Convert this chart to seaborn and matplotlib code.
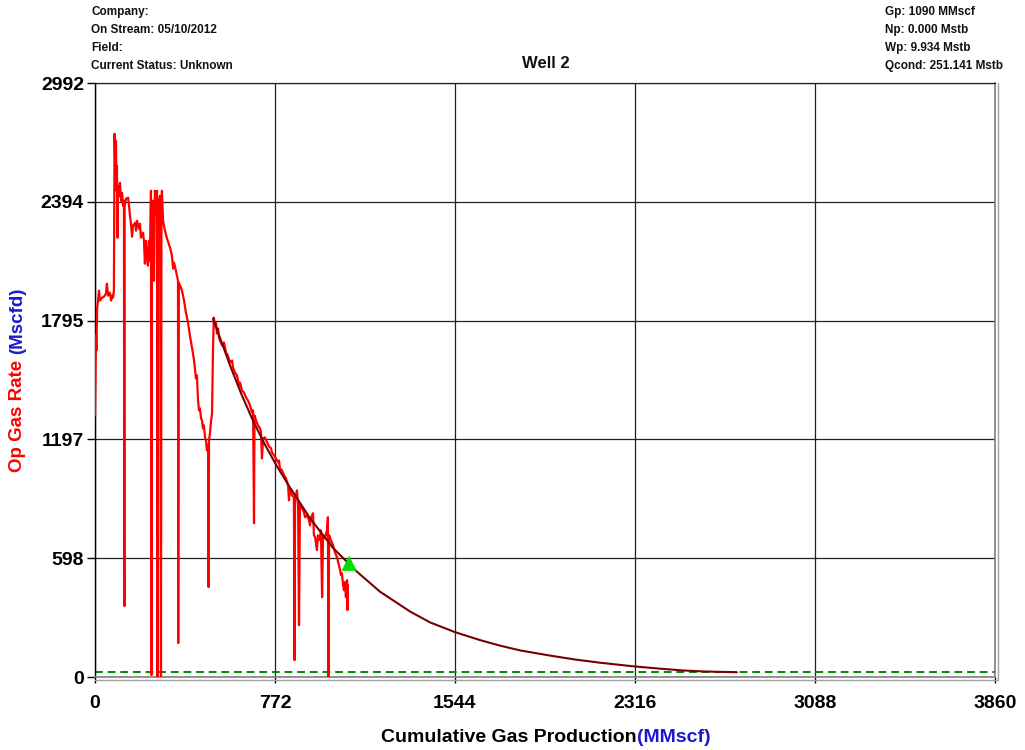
import matplotlib
matplotlib.use("Agg")
import matplotlib.pyplot as plt
from matplotlib.lines import Line2D
import pandas as pd
import seaborn as sns

# Daily gas rate history against cumulative production (MMscf, Mscfd)
cum_gas = [0, 2, 4, 6, 9, 13, 17, 21, 30, 39, 47, 51, 56, 64, 69, 73, 77, 81, 84, 86,
           90, 92, 94, 97, 99, 103, 107, 112, 116, 120, 124, 126, 127, 133, 142, 146, 150, 154, 159, 163,
           172, 176, 180, 189, 193, 197, 206, 210, 214, 219, 223, 227, 232, 236, 240, 242, 244, 249, 253, 257,
           262, 266, 268, 270, 274, 279, 283, 285, 287, 292, 300, 309, 322, 330, 335, 339, 347, 356, 357, 359,
           365, 373, 382, 390, 399, 407, 416, 425, 433, 437, 442, 446, 450, 455, 459, 463, 467, 472, 476, 480,
           485, 487, 489, 493, 498, 502, 504, 506, 508, 510, 515, 519, 523, 528, 532, 536, 545, 553, 562, 570,
           579, 588, 592, 600, 609, 618, 622, 630, 639, 648, 656, 665, 673, 678, 682, 684, 691, 699, 708, 712,
           716, 721, 729, 738, 746, 755, 759, 768, 776, 785, 789, 793, 802, 811, 819, 828, 832, 836, 841, 845,
           853, 856, 858, 866, 871, 875, 879, 888, 896, 901, 909, 918, 922, 926, 935, 939, 944, 952, 956, 965,
           969, 974, 978, 986, 995, 999, 1001, 1004, 1012, 1021, 1029, 1038, 1046, 1051, 1055, 1059, 1064, 1068, 1072,
           1076, 1081, 1083, 1085]
gas_rate = [1317, 1494, 1720, 1644, 1856, 1896, 1946, 1896, 1911, 1916, 1931, 1981, 1921, 1936, 1896, 1921, 1911, 1946, 2736, 2600,
            2700, 2449, 2575, 2213, 2474, 2424, 2489, 2399, 2439, 2374, 2399, 357, 2374, 2409, 2414, 2374, 2323, 2288, 2218, 2273,
            2288, 2248, 2298, 2258, 2283, 2213, 2238, 2197, 2082, 2197, 2122, 2072, 2197, 2097, 2449, 10, 2197, 2399, 1996, 2449,
            2333, 2449, 0, 2248, 2399, 2424, 0, 2248, 2449, 2298, 2248, 2208, 2162, 2122, 2057, 2087, 2047, 1996, 171, 1986,
            1971, 1946, 1896, 1835, 1785, 1720, 1659, 1594, 1504, 1519, 1393, 1343, 1353, 1302, 1292, 1252, 1267, 1207, 1192, 1142,
            1167, 453, 1192, 1227, 1292, 1328, 1494, 1644, 1745, 1810, 1770, 1785, 1730, 1755, 1710, 1695, 1670, 1685, 1634, 1619,
            1584, 1594, 1559, 1534, 1519, 1468, 1483, 1443, 1433, 1408, 1393, 1368, 1333, 1343, 774, 1317, 1292, 1267, 1252, 1232,
            1101, 1202, 1207, 1182, 1162, 1152, 1131, 1116, 1101, 1081, 1091, 1051, 1041, 1016, 1001, 965, 890, 950, 930, 915,
            905, 85, 890, 940, 865, 261, 875, 850, 830, 805, 815, 790, 764, 800, 825, 714, 704, 639, 714, 689,
            739, 402, 714, 699, 739, 805, 0, 714, 689, 664, 629, 603, 563, 538, 513, 523, 463, 437, 478,
            402, 488, 337, 463]

# Decline forecast from the start of the second flow period to the economic limit
fit_cum = [506, 545, 579, 626, 678, 729, 781, 836, 922, 1021, 1124, 1222, 1351, 1437, 1544, 1651,
           1737, 1823, 1951, 2059, 2166, 2307, 2423, 2522, 2608, 2753]
fit_rate = [1805, 1680, 1570, 1430, 1290, 1170, 1060, 955, 800, 650, 530, 430, 330, 275, 226, 186,
            158, 134, 108, 88, 72, 54, 42, 33, 28, 24]

economic_limit = 25
current_cum = [1090]
current_rate = [573]

x_ticks = [0, 772, 1544, 2316, 3088, 3860]
y_ticks = [0, 598, 1197, 1795, 2394, 2992]

well_name = "Well 2"
header_left = ["Company:", "On Stream: 05/10/2012", "Field:", "Current Status: Unknown"]
header_right = ["Gp: 1090 MMscf", "Np: 0.000 Mstb", "Wp: 9.934 Mstb", "Qcond: 251.141 Mstb"]

sns.set_theme(style="white")
plt.rcParams["font.family"] = ["Liberation Sans", "DejaVu Sans"]

W, H = 1025, 750
fig = plt.figure(figsize=(W / 100, H / 100), dpi=100)
fig.patch.set_facecolor("white")
ax = fig.add_axes([95 / W, 1 - 677 / H, 900 / W, 594 / H])
ax.set_facecolor("white")

hist = pd.DataFrame({"cum": cum_gas, "rate": gas_rate})
fit = pd.DataFrame({"cum": fit_cum, "rate": fit_rate})

sns.lineplot(data=hist, x="cum", y="rate", sort=False, estimator=None,
             color="#FF0000", linewidth=1.6, ax=ax, zorder=3)
sns.lineplot(data=fit, x="cum", y="rate", sort=False, estimator=None,
             color="#7A0000", linewidth=1.5, ax=ax, zorder=4)
ax.axhline(economic_limit, color="#008A00", linewidth=1.4, linestyle=(0, (4, 2.5)), zorder=2)
sns.scatterplot(x=current_cum, y=current_rate, marker="^", s=120, color="#00DD00",
                edgecolor="none", ax=ax, zorder=5)

ax.set_xlim(x_ticks[0], x_ticks[-1])
ax.set_ylim(y_ticks[0], y_ticks[-1])
ax.set_xticks(x_ticks)
ax.set_yticks(y_ticks)
ax.set_xticklabels([str(v) for v in x_ticks])
ax.set_yticklabels([str(v) for v in y_ticks])
ax.grid(True, color="#202020", linewidth=0.9)
ax.set_axisbelow(True)
ax.set_xlabel("")
ax.set_ylabel("")

ax.tick_params(axis="y", which="both", direction="out", length=6, width=1, pad=2,
               labelsize=14, colors="black", left=True)
ax.tick_params(axis="x", which="both", direction="out", length=4, width=1, pad=9,
               labelsize=14, colors="black", bottom=True)
for lbl in ax.get_xticklabels() + ax.get_yticklabels():
    lbl.set_fontweight("bold")

ax.spines["left"].set_color("black")
ax.spines["left"].set_linewidth(1.0)
ax.spines["top"].set_color("#202020")
ax.spines["top"].set_linewidth(0.9)
for side in ("right", "bottom"):
    ax.spines[side].set_color("#808080")
    ax.spines[side].set_linewidth(1.2)

# second rule of the double frame on the right and bottom
x_r = 998 / W
y_b = 1 - 680 / H
fig.add_artist(Line2D([95 / W, x_r], [y_b, y_b], color="#A0A0A0", linewidth=1.0))
fig.add_artist(Line2D([x_r, x_r], [y_b, 1 - 83 / H], color="#A0A0A0", linewidth=1.0))

# header block
for i, txt in enumerate(header_left):
    fig.text(91 / W, 1 - (12 + 18 * i) / H, txt, fontsize=8.5, fontweight="bold",
             ha="left", va="center", color="#111111")
for i, txt in enumerate(header_right):
    fig.text(885 / W, 1 - (12 + 18 * i) / H, txt, fontsize=8.5, fontweight="bold",
             ha="left", va="center", color="#111111")
fig.text(546 / W, 1 - 64 / H, well_name, fontsize=12, fontweight="bold",
         ha="center", va="center", color="#111111")

# two-colour axis titles
fig.canvas.draw()
renderer = fig.canvas.get_renderer()
blue = "#1A1ACC"

xt1 = fig.text(0, 1 - 737 / H, "Cumulative Gas Production", fontsize=14, fontweight="bold",
               color="black", ha="left", va="center")
xt2 = fig.text(0, 1 - 737 / H, "(MMscf)", fontsize=14, fontweight="bold",
               color=blue, ha="left", va="center")
w1 = xt1.get_window_extent(renderer).width
w2 = xt2.get_window_extent(renderer).width
x0 = 546 - (w1 + w2) / 2
xt1.set_x(x0 / W)
xt2.set_x((x0 + w1) / W)

yt1 = fig.text(18 / W, 0, "Op Gas Rate ", fontsize=13.5, fontweight="bold",
               color="#FF0000", rotation=90, ha="center", va="bottom")
yt2 = fig.text(18 / W, 0, "(Mscfd)", fontsize=13.5, fontweight="bold",
               color=blue, rotation=90, ha="center", va="bottom")
h1 = yt1.get_window_extent(renderer).height
h2 = yt2.get_window_extent(renderer).height
y0 = (H - 380) - (h1 + h2) / 2
yt1.set_y(y0 / H)
yt2.set_y((y0 + h1) / H)

fig.savefig("out.png", dpi=100, facecolor="white")
